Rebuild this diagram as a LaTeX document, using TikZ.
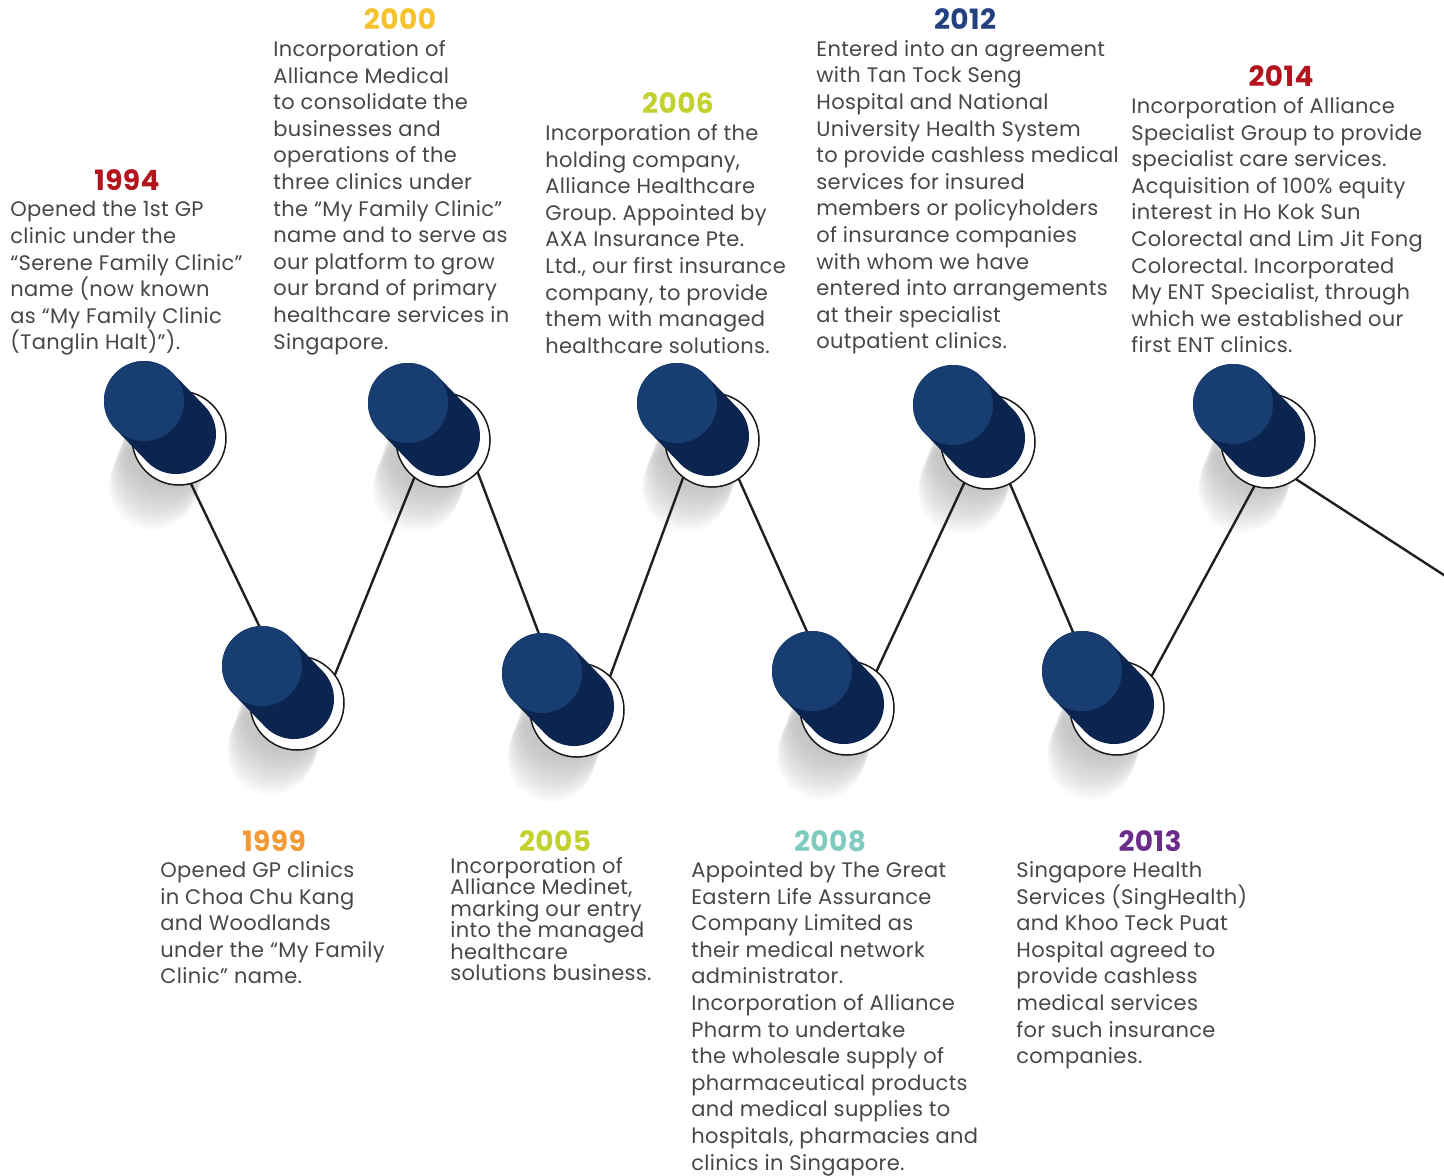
\documentclass[tikz,border=0pt]{standalone}
\usepackage{fontspec}
\setmainfont{Poppins}[LetterSpace=1.5]
\usetikzlibrary{positioning}
\usetikzlibrary{calc}
\frenchspacing
\newcommand{\tightlines}{\lineskiplimit=-6pt\relax}

\definecolor{pinlight}{HTML}{183D70}
\definecolor{pindark}{HTML}{0C2550}
\definecolor{body}{HTML}{474747}
\definecolor{yred}{HTML}{B2151E}
\definecolor{ygold}{HTML}{F6C32C}
\definecolor{ylime}{HTML}{C3D12F}
\definecolor{ynavy}{HTML}{24417F}
\definecolor{yorange}{HTML}{F39A37}
\definecolor{yteal}{HTML}{7FCBBF}
\definecolor{ypurple}{HTML}{6B2C8A}

\begin{document}
\begin{tikzpicture}[x=0.5pt, y=-0.5pt,
    pin/.style = {circle, minimum size=47pt, inner sep=0pt},
    ringline/.style = {draw=black!90, fill=white, line width=0.75pt},
    string/.style = {draw=black!88, line width=1.2pt},
    year/.style = {font=\bfseries\fontsize{14}{16}\selectfont},
    note/.style = {anchor=north west, align=left, inner sep=0pt, text=body,
                   font=\fontsize{10.5}{13.3}\selectfont}]
    \useasboundingbox (0,0) rectangle (1444,1175);

    % pin heads
    \foreach \n/\x/\y in {1994/179/438, 1999/297/703, 2000/443/440, 2005/577/710,
                          2006/712/440, 2008/847/708, 2012/988/442, 2013/1117/708,
                          2014/1268/441}
        \node[pin] (r\n) at (\x,\y) {};

    % where the string passes behind each pin
    \coordinate (k1994) at ($(r1994)+(-9,2)$);
    \coordinate (k1999) at ($(r1999)+(14,31)$);
    \coordinate (k2000) at ($(r2000)+(5,-46)$);
    \coordinate (k2005) at ($(r2005)+(6,40)$);
    \coordinate (k2006) at ($(r2006)+(-4,-30)$);
    \coordinate (k2008) at ($(r2008)+(3,20)$);
    \coordinate (k2012) at ($(r2012)+(0,-10)$);
    \coordinate (k2013) at ($(r2013)+(1,30)$);
    \coordinate (k2014) at ($(r2014)+(0,20)$);
    \coordinate (tail) at (1450,579);

    % soft shadows
    \foreach \n in {1994,1999,2000,2005,2006,2008,2012,2013,2014}
        \foreach \t in {0,1,...,24}
            \fill[black!40, opacity=0.03] ($(r\n)+(-10-0.68*\t,5+1.8*\t)$) circle[radius=44];

    \draw[string] (k1994) -- (k1999) -- (k2000) -- (k2005) -- (k2006) -- (k2008)
        -- (k2012) -- (k2013) -- (k2014) -- (tail);

    \foreach \n in {1994,1999,2000,2005,2006,2008,2012,2013,2014} {
        \draw[ringline] (r\n) circle[radius=47];
        \draw[pindark, line width=40pt, line cap=round] ($(r\n)+(-35,-37)$) -- ($(r\n)+(-3,-4)$);
        \fill[pinlight] ($(r\n)+(-35,-37)$) circle[radius=40];
    }

    % top row
    \node[year, text=yred] (y1994) at (127,180) {1994};
    \node[note] (t1994) at (10,201) {Opened the 1st GP\\clinic under the\\“Serene Family Clinic”\\name (now known\\as “My Family Clinic\\(Tanglin Halt)”).};

    \node[year, text=ygold] (y2000) at (400,19) {2000};
    \node[note] (t2000) at (273,40) {Incorporation of\\Alliance Medical\\to consolidate the\\businesses and\\operations of the\\three clinics under\\the “My Family Clinic”\\name and to serve as\\our platform to grow\\our brand of primary\\healthcare services in\\Singapore.};

    \node[year, text=ylime] (y2006) at (678,103) {2006};
    \node[note] (t2006) at (545,124) {Incorporation of the\\holding company,\\Alliance Healthcare\\Group. Appointed by\\AXA Insurance Pte.\\Ltd., our first insurance\\company, to provide\\them with managed\\healthcare solutions.};

    \node[year, text=ynavy] (y2012) at (965,19) {2012};
    \node[note] (t2012) at (816,40) {Entered into an agreement\\with Tan Tock Seng\\Hospital and National\\University Health System\\to provide cashless medical\\services for insured\\members or policyholders\\of insurance companies\\with whom we have\\entered into arrangements\\at their specialist\\outpatient clinics.};

    \node[year, text=yred] (y2014) at (1281,76) {2014};
    \node[note] (t2014) at (1131,97) {Incorporation of Alliance\\Specialist Group to provide\\specialist care services.\\Acquisition of 100\% equity\\interest in Ho Kok Sun\\Colorectal and Lim Jit Fong\\Colorectal. Incorporated\\My ENT Specialist, through\\which we established our\\first ENT clinics.};

    % bottom row
    \node[year, text=yorange] (y1999) at (274,841) {1999};
    \node[note] (t1999) at (160,861) {Opened GP clinics\\in Choa Chu Kang\\and Woodlands\\under the “My Family\\Clinic” name.};

    \node[year, text=ylime] (y2005) at (555,841) {2005};
    \node[note, font={\fontsize{10.5}{10.7}\selectfont\tightlines}] (t2005) at (450,857) {Incorporation of\\Alliance Medinet,\\marking our entry\\into the managed\\healthcare\\solutions business.};

    \node[year, text=yteal] (y2008) at (830,841) {2008};
    \node[note] (t2008) at (691,861) {Appointed by The Great\\Eastern Life Assurance\\Company Limited as\\their medical network\\administrator.\\Incorporation of Alliance\\Pharm to undertake\\the wholesale supply of\\pharmaceutical products\\and medical supplies to\\hospitals, pharmacies and\\clinics in Singapore.};

    \node[year, text=ypurple] (y2013) at (1150,841) {2013};
    \node[note] (t2013) at (1016,861) {Singapore Health\\Services (SingHealth)\\and Khoo Teck Puat\\Hospital agreed to\\provide cashless\\medical services\\for such insurance\\companies.};
\end{tikzpicture}
\end{document}
